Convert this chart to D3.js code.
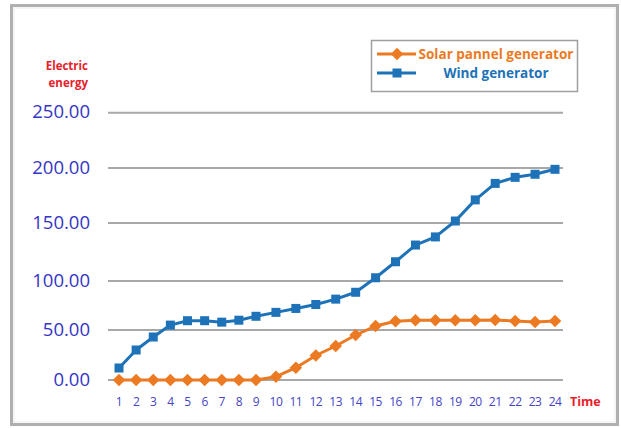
<!DOCTYPE html>
<html>
<head>
<meta charset="utf-8">
<script src="https://cdn.jsdelivr.net/npm/d3@7"></script>
<style>
  html, body { margin: 0; padding: 0; background: #fff; }
  svg { display: block; }
</style>
</head>
<body>
<svg id="chart" width="621" height="428"></svg>
<script>
// Hourly output of two generators
const hours = ["1","2","3","4","5","6","7","8","9","10","11","12","13","14","15","16","17","18","19","20","21","22","23","24"];
const solarValues = [0, 0, 0, 0, 0, 0, 0, 0, 0, 3.3, 12.3, 24.5, 34, 45, 54, 59, 60, 60, 60, 60, 60.2, 59.2, 58.2, 59.2];
const windValues = [12, 30, 43, 55, 59.5, 59.5, 58, 60, 64, 68, 72, 76, 81.5, 88.5, 102.8, 116.6, 131, 138, 151.8, 171, 186, 191.5, 194.3, 198.8];
const yTicks = [0, 50, 100, 150, 200, 250];
const seriesNames = ["Solar pannel generator", "Wind generator"];

const solarColor = "#EC7A23";
const windColor = "#1D72B8";

const svg = d3.select("#chart");

// outer frame
svg.append("rect")
  .attr("x", 11.5).attr("y", 5.5).attr("width", 606).attr("height", 419)
  .attr("fill", "#fff").attr("stroke", "#b0b0b0").attr("stroke-width", 3);
svg.append("rect")
  .attr("x", 14).attr("y", 8).attr("width", 601).attr("height", 414)
  .attr("fill", "none").attr("stroke", "#ececec").attr("stroke-width", 1);

const x = d3.scaleLinear().domain([1, 9, 24]).range([119, 256, 555]);
const y = d3.scaleLinear().domain([0, 50, 100, 150, 200, 250]).range([380, 330, 281, 223, 168, 112.7]);

// horizontal gridlines
svg.append("g").selectAll("line").data(yTicks).join("line")
  .attr("x1", 108).attr("x2", 563)
  .attr("y1", d => y(d)).attr("y2", d => y(d))
  .attr("stroke", "#a8a8a8").attr("stroke-width", 2);

// y tick labels
svg.append("g").selectAll("text").data(yTicks).join("text")
  .attr("x", 90).attr("y", d => y(d) - 2)
  .attr("text-anchor", "end").attr("dominant-baseline", "central")
  .attr("font-family", "Open Sans, sans-serif").attr("font-size", 18.5)
  .attr("fill", "#3434c6")
  .text(d => d3.format(".2f")(d));

// y axis title
const yTitle = svg.append("text")
  .attr("text-anchor", "end")
  .attr("font-family", "Open Sans, sans-serif").attr("font-size", 11.5).attr("font-weight", "bold")
  .attr("fill", "#e8202a");
yTitle.append("tspan").attr("x", 88).attr("y", 70).text("Electric");
yTitle.append("tspan").attr("x", 88).attr("y", 87).text("energy");

// x tick labels
svg.append("g").selectAll("text").data(hours).join("text")
  .attr("x", (d, i) => x(i + 1)).attr("y", 406)
  .attr("text-anchor", "middle")
  .attr("font-family", "Open Sans, sans-serif").attr("font-size", 12)
  .attr("letter-spacing", -0.5)
  .attr("fill", "#4444c4")
  .text(d => d);

svg.append("text")
  .attr("x", 570).attr("y", 406)
  .attr("font-family", "Open Sans, sans-serif").attr("font-size", 12.5).attr("font-weight", "bold")
  .attr("fill", "#e8202a")
  .text("Time");

const line = d3.line().x((d, i) => x(i + 1)).y(d => y(d));

// wind series
svg.append("path").datum(windValues)
  .attr("d", line).attr("fill", "none")
  .attr("stroke", windColor).attr("stroke-width", 3).attr("stroke-linejoin", "round");
svg.append("g").selectAll("rect").data(windValues).join("rect")
  .attr("x", (d, i) => x(i + 1) - 4.5).attr("y", d => y(d) - 4.5)
  .attr("width", 9).attr("height", 9)
  .attr("fill", windColor);

// solar series
const diamond = d3.symbol().type(d3.symbolDiamond2).size(100);
svg.append("path").datum(solarValues)
  .attr("d", line).attr("fill", "none")
  .attr("stroke", solarColor).attr("stroke-width", 3).attr("stroke-linejoin", "round");
svg.append("g").selectAll("path").data(solarValues).join("path")
  .attr("d", diamond)
  .attr("transform", (d, i) => `translate(${x(i + 1)},${y(d)})`)
  .attr("fill", solarColor);

// legend
const legend = svg.append("g");
legend.append("rect")
  .attr("x", 371.5).attr("y", 40.5).attr("width", 206).attr("height", 51)
  .attr("fill", "#fff").attr("stroke", "#a0a0a0").attr("stroke-width", 1.5);
const legendRows = [
  { name: seriesNames[0], color: solarColor, ly: 54, marker: "diamond" },
  { name: seriesNames[1], color: windColor, ly: 73, marker: "square" }
];
legendRows.forEach(r => {
  legend.append("line")
    .attr("x1", 377).attr("x2", 416).attr("y1", r.ly).attr("y2", r.ly)
    .attr("stroke", r.color).attr("stroke-width", 3);
  if (r.marker === "diamond") {
    legend.append("path").attr("d", diamond)
      .attr("transform", `translate(397,${r.ly})`).attr("fill", r.color);
  } else {
    legend.append("rect").attr("x", 392.5).attr("y", r.ly - 4.5)
      .attr("width", 9).attr("height", 9).attr("fill", r.color);
  }
  legend.append("text")
    .attr("x", 496).attr("y", r.ly + 4.5)
    .attr("text-anchor", "middle")
    .attr("font-family", "Open Sans, sans-serif").attr("font-size", 13.5).attr("font-weight", "bold")
    .attr("fill", r.color)
    .text(r.name);
});
</script>
</body>
</html>
